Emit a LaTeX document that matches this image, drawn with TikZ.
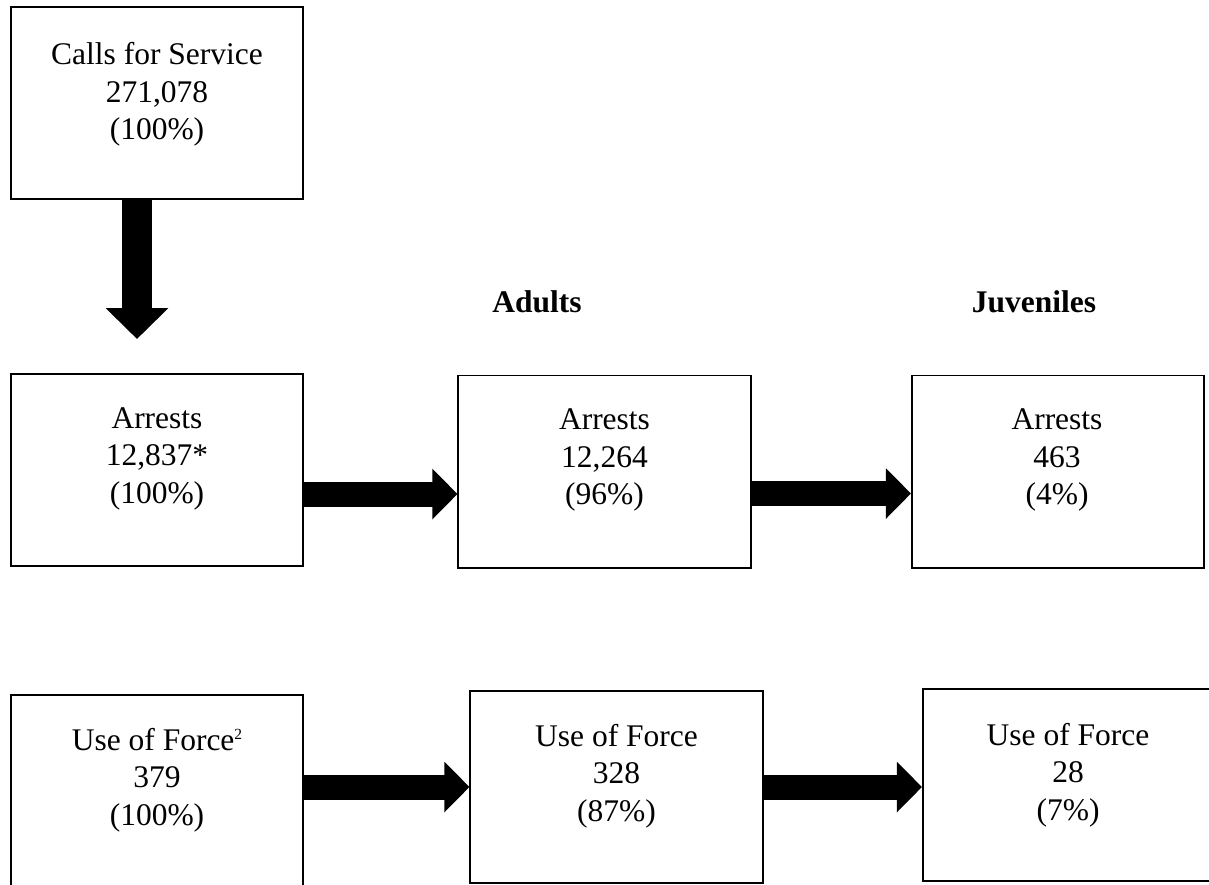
\documentclass[tikz,border=0pt]{standalone}
\usepackage{fontspec}
\setmainfont{Liberation Serif}
\usetikzlibrary{arrows.meta}

\begin{document}
\begin{tikzpicture}[x=0.025cm, y=-0.025cm, font=\fontsize{22.4}{26.7}\selectfont, box/.style={draw=black, line width=1.4pt, minimum width=7.3cm, minimum height=4.8cm}, txt/.style={align=center, inner sep=0pt}, fat/.style={line width=0.625cm, -{Triangle[length=0.625cm, width=1.225cm]}}, fatdown/.style={line width=0.75cm, -{Triangle[length=0.775cm, width=1.525cm]}}]
        \useasboundingbox (0,0) rectangle (1209,884);

        \node[box] (1) at (157,103) {};
        \node[box] (2) at (157,470) {};
        \node[box] (3) at (604.5,471.5) {};
        \node[box] (4) at (1058,471.5) {};
        \node[box] (5) at (157,791) {};
        \node[box] (6) at (616.5,787) {};
        \node[box, minimum width=7.7cm] (7) at (1077,785) {};

        \node[txt] (1t) at (157,94.5) {Calls for Service\\271,078\\(100\%)};
        \node[txt] (2t) at (157,458.5) {Arrests\\12,837*\\(100\%)};
        \node[txt] (3t) at (604.5,460) {Arrests\\12,264\\(96\%)};
        \node[txt] (4t) at (1057,460) {Arrests\\463\\(4\%)};
        \node[txt] (5t) at (157,780) {Use of Force\raisebox{7.5pt}{\fontsize{11}{11}\selectfont 2}\\379\\(100\%)};
        \node[txt] (6t) at (616.5,776) {Use of Force\\328\\(87\%)};
        \node[txt] (7t) at (1068,775) {Use of Force\\28\\(7\%)};

        \node[txt, anchor=base, font=\fontsize{22.4}{26.7}\selectfont\bfseries] (adults) at (537,312) {Adults};
        \node[txt, anchor=base, font=\fontsize{22.4}{26.7}\selectfont\bfseries] (juveniles) at (1034,312) {Juveniles};

        \coordinate (d) at (137,339);
        \draw[fatdown] (1.south -| d) -- (d);
        \draw[fat] ([yshift=-0.6cm]2.east) -- ([yshift=-0.6cm]2.east -| 3.west);
        \draw[fat] ([yshift=-0.55cm]3.east) -- ([yshift=-0.55cm]3.east -| 4.west);
        \draw[fat] (5.east |- 6.west) -- (6.west);
        \draw[fat] (6.east) -- (6.east -| 7.west);
    \end{tikzpicture}
\end{document}
